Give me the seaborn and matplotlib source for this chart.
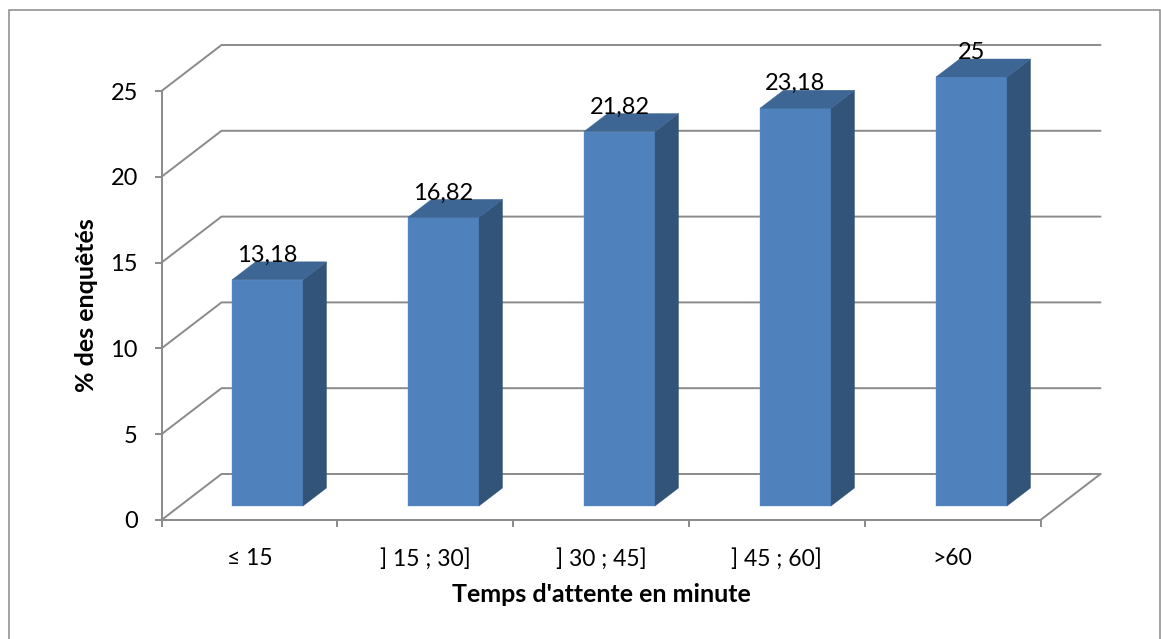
import matplotlib
matplotlib.use('Agg')
import matplotlib.pyplot as plt
import seaborn as sns
from matplotlib.patches import Polygon, Rectangle

# valeurs
categories = ['≤ 15', '] 15 ; 30]', '] 30 ; 45]', '] 45 ; 60]', '>60']
values = [13.18, 16.82, 21.82, 23.18, 25]
value_labels = ['13,18', '16,82', '21,82', '23,18', '25']
y_ticks = [0, 5, 10, 15, 20, 25]

W, H = 1161, 639
GREY = '#8a8a8a'
FACE = '#4f81bd'
SIDE = '#335479'
TOP = '#3d6695'
EDGE = '#6f97c9'
LW = 1.4

sns.set_theme(style='white')
plt.rcParams['font.family'] = ['Lato', 'DejaVu Sans']
plt.rcParams['text.color'] = 'black'


def box(left, top, right, bottom):
    # pixels de l'image -> fractions de la figure
    return [left / W, 1 - bottom / H, (right - left) / W, (bottom - top) / H]


fig = plt.figure(figsize=(W / 100, H / 100), dpi=100, facecolor='white')

# cadre exterieur (ouvert en bas, il sort de l'image)
fig.add_artist(Rectangle((8.5 / W, -0.05), (1160 - 8.5) / W, 1.05 - 9.5 / H,
                         transform=fig.transFigure, fill=False,
                         edgecolor=GREY, linewidth=1.1))

# plan avant : axes, graduations, parois
ax = fig.add_axes(box(161.5, 91, 1040.5, 520))
ax.set_xlim(0, 5)
ax.set_ylim(0, 25)
ax.patch.set_visible(False)
for s in ['top', 'right']:
    ax.spines[s].set_visible(False)
for s in ['left', 'bottom']:
    ax.spines[s].set_color(GREY)
    ax.spines[s].set_linewidth(LW)

back_x = 60 / (879 / 5)
back_y = 46 / (429 / 25)
for v in y_ticks:
    ax.plot([0, back_x, 5 + back_x], [v, v + back_y, v + back_y], color=GREY,
            lw=LW, clip_on=False, solid_capstyle='round', zorder=1)
ax.plot([5, 5 + back_x], [0, back_y], color=GREY, lw=LW, clip_on=False,
        solid_capstyle='round', zorder=1)

ax.set_yticks(y_ticks)
ax.set_xticks(range(6))
ax.set_xticklabels([])
ax.set_xticks([i + 0.5 for i in range(5)], minor=True)
ax.set_xticklabels(categories, minor=True)
ax.tick_params(axis='y', left=True, length=5, width=LW, color=GREY, pad=12,
               labelsize=17, labelcolor='black')
ax.tick_params(axis='x', which='major', bottom=True, length=5, width=LW, color=GREY)
ax.tick_params(axis='x', which='minor', bottom=False, length=0, pad=20,
               labelsize=16.5, labelcolor='black')

# barres : meme echelle, decalees vers le fond
bars = fig.add_axes(box(179.5, 77, 1059.5, 506))
bars.patch.set_visible(False)
sns.barplot(x=categories, y=values, ax=bars, color=FACE, saturation=1,
            width=71 / 176, edgecolor=EDGE, linewidth=0.3, zorder=3)
bars.set_xlim(-0.5, 4.5)
bars.set_ylim(0, 25)
bars.axis('off')

depth_x = 23.5 / 176
depth_y = 18 / (429 / 25)
for p in bars.patches:
    x0 = p.get_x()
    x1 = x0 + p.get_width()
    h = p.get_height()
    bars.add_patch(Polygon([(x1, 0), (x1, h), (x1 + depth_x, h + depth_y), (x1 + depth_x, depth_y)],
                           facecolor=SIDE, edgecolor=SIDE, linewidth=0.3,
                           clip_on=False, zorder=3))
    bars.add_patch(Polygon([(x0, h), (x1, h), (x1 + depth_x, h + depth_y), (x0 + depth_x, h + depth_y)],
                           facecolor=TOP, edgecolor=TOP, linewidth=0.3,
                           clip_on=False, zorder=3))
    p.set_clip_on(False)

bars.bar_label(bars.containers[0], labels=value_labels, padding=10, fontsize=17,
               color='black', zorder=5, clip_on=False)

fig.text(87 / W, 1 - 305 / H, '% des enquêtés', rotation=90, ha='center', va='center',
         fontsize=18, fontweight='bold', color='black')
fig.text(601 / W, 1 - 594 / H, "Temps d'attente en minute", ha='center', va='center',
         fontsize=18, fontweight='bold', color='black')

fig.savefig('out.png', dpi=100)
